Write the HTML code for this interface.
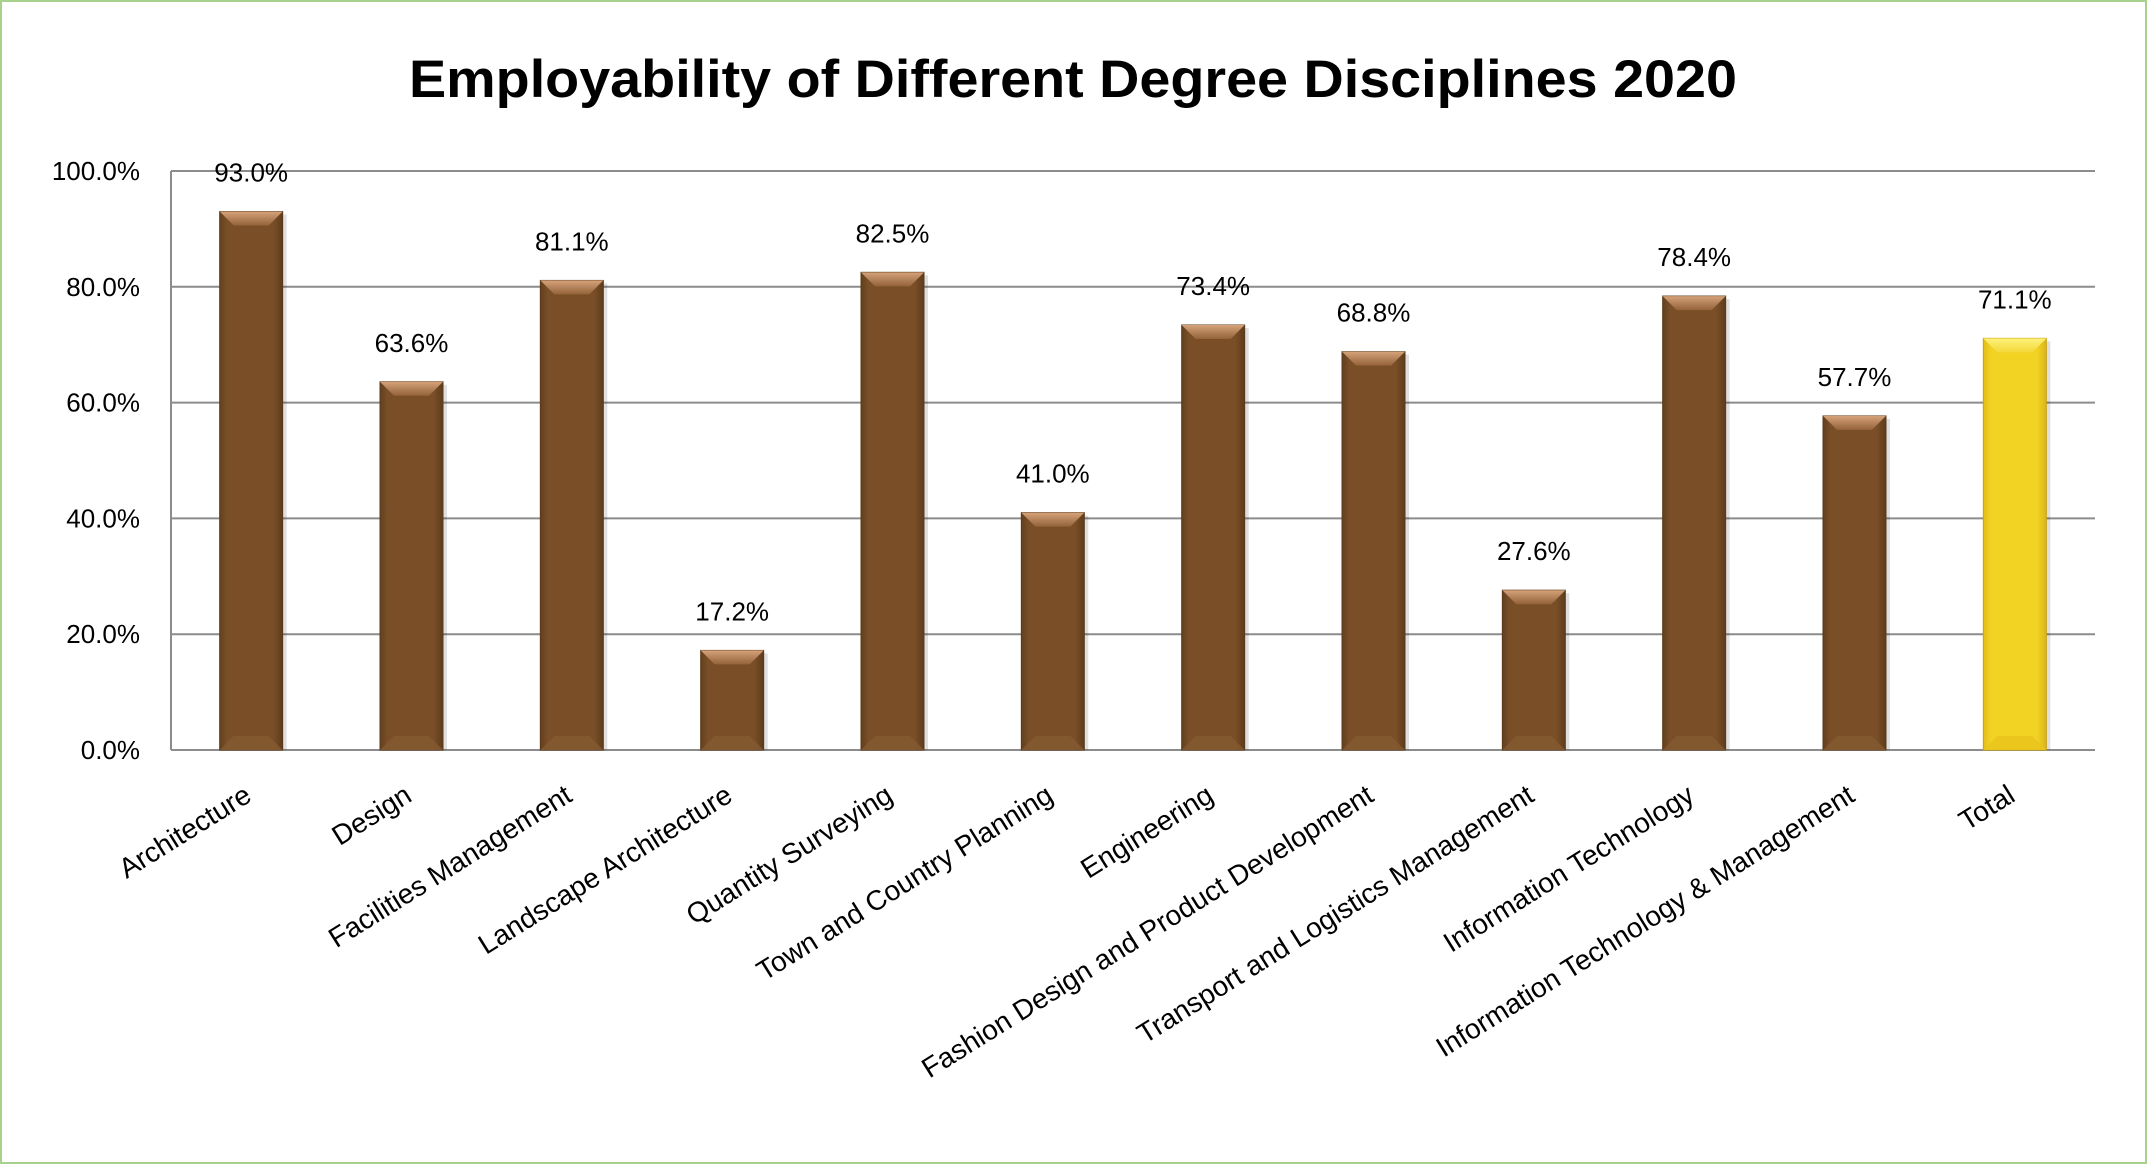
<!DOCTYPE html>
<html><head><meta charset="utf-8"><style>
html,body{margin:0;padding:0;background:#fff;}
svg{display:block;font-family:"Liberation Sans",sans-serif;}
</style></head><body>
<svg id="chart" width="2147" height="1164" viewBox="0 0 2147 1164" xmlns="http://www.w3.org/2000/svg">
<defs>
<linearGradient id="gBrown" x1="0" x2="1" y1="0" y2="0">
<stop offset="0" stop-color="#62401f"/><stop offset="0.12" stop-color="#7a4f27"/><stop offset="0.85" stop-color="#7a4f27"/><stop offset="1" stop-color="#5e3c1c"/></linearGradient>
<linearGradient id="gBrownTop" x1="0" x2="0" y1="0" y2="1">
<stop offset="0" stop-color="#d5a27a"/><stop offset="1" stop-color="#94633a"/></linearGradient>
<linearGradient id="gYellow" x1="0" x2="1" y1="0" y2="0">
<stop offset="0" stop-color="#e3bd18"/><stop offset="0.12" stop-color="#f2d324"/><stop offset="0.85" stop-color="#f2d324"/><stop offset="1" stop-color="#dcb418"/></linearGradient>
<linearGradient id="gYellowTop" x1="0" x2="0" y1="0" y2="1">
<stop offset="0" stop-color="#fff27a"/><stop offset="1" stop-color="#f3d83a"/></linearGradient>
</defs>
<rect x="1" y="1" width="2145" height="1162" fill="#fff" stroke="#a9d18e" stroke-width="2"/>
<text x="1073" y="97" text-anchor="middle" font-size="53" font-weight="bold" textLength="1328" lengthAdjust="spacingAndGlyphs">Employability of Different Degree Disciplines 2020</text>
<g id="grid"></g>
<g id="bars"></g>
<g id="ylabels"></g>
<g id="xlabels"></g>
</svg>
<script>
const categories = ["Architecture","Design","Facilities Management","Landscape Architecture","Quantity Surveying","Town and Country Planning","Engineering","Fashion Design and Product Development","Transport and Logistics Management","Information Technology","Information Technology & Management","Total"];
const values = [93.0,63.6,81.1,17.2,82.5,41.0,73.4,68.8,27.6,78.4,57.7,71.1];
const yTicks = [0,20,40,60,80,100];
const yTickLabels = ["0.0%","20.0%","40.0%","60.0%","80.0%","100.0%"];

const NS="http://www.w3.org/2000/svg";
const L=171,R=2095,T=171,B=750;
const yMax=100;
function y(v){return B-(v/yMax)*(B-T);}
const slot=(R-L)/categories.length;
function xc(i){return L+slot*(i+0.5);}
const bw=63;
function mk(tag,attrs,parent){const e=document.createElementNS(NS,tag);for(const k in attrs)e.setAttribute(k,attrs[k]);parent.appendChild(e);return e;}
const grid=document.getElementById('grid'),bars=document.getElementById('bars'),yl=document.getElementById('ylabels'),xl=document.getElementById('xlabels');
yTicks.forEach((t,i)=>{
  const ln=mk('line',{x1:L,x2:R,y1:y(t),y2:y(t),stroke:'#8c8c8c','stroke-width':2},grid);
  
  
  const tx=mk('text',{x:140,y:y(t)+9,'text-anchor':'end','font-size':26,fill:'#000'},yl);
  tx.textContent=yTickLabels[i];
  
  
});
const ax=mk('line',{x1:L,x2:L,y1:T,y2:B,stroke:'#8c8c8c','stroke-width':2},grid);


values.forEach((v,i)=>{
  const cx=xc(i),top=y(v),x0=cx-bw/2;
  const isTot=categories[i]==='Total';
  const g=mk('g',{},bars);
  
  
  mk('rect',{x:x0+4,y:top+3,width:bw,height:B-top-3,fill:'#000',opacity:0.12},g);
  mk('rect',{x:x0,y:top,width:bw,height:B-top,fill:isTot?'url(#gYellow)':'url(#gBrown)',stroke:isTot?'#c9a210':'#5a3a1a','stroke-width':1},g);
  const bev=14;
  mk('polygon',{points:`${x0},${top} ${x0+bw},${top} ${x0+bw-bev},${top+bev} ${x0+bev},${top+bev}`,fill:isTot?'url(#gYellowTop)':'url(#gBrownTop)'},g);
  mk('polygon',{points:`${x0},${B} ${x0+bw},${B} ${x0+bw-bev},${B-bev} ${x0+bev},${B-bev}`,fill:isTot?'#e8c41c':'#845a32',opacity:0.8},g);
  const lab=mk('text',{x:cx,y:top-30,'text-anchor':'middle','font-size':26,fill:'#000'},bars);
  lab.textContent=v.toFixed(1)+'%';
  
  
  const cl=mk('text',{'text-anchor':'end','font-size':28,fill:'#000',transform:`translate(${cx+2},${B+50}) rotate(-32)`},xl);
  cl.textContent=categories[i];
  
  
});
</script>
</body></html>
